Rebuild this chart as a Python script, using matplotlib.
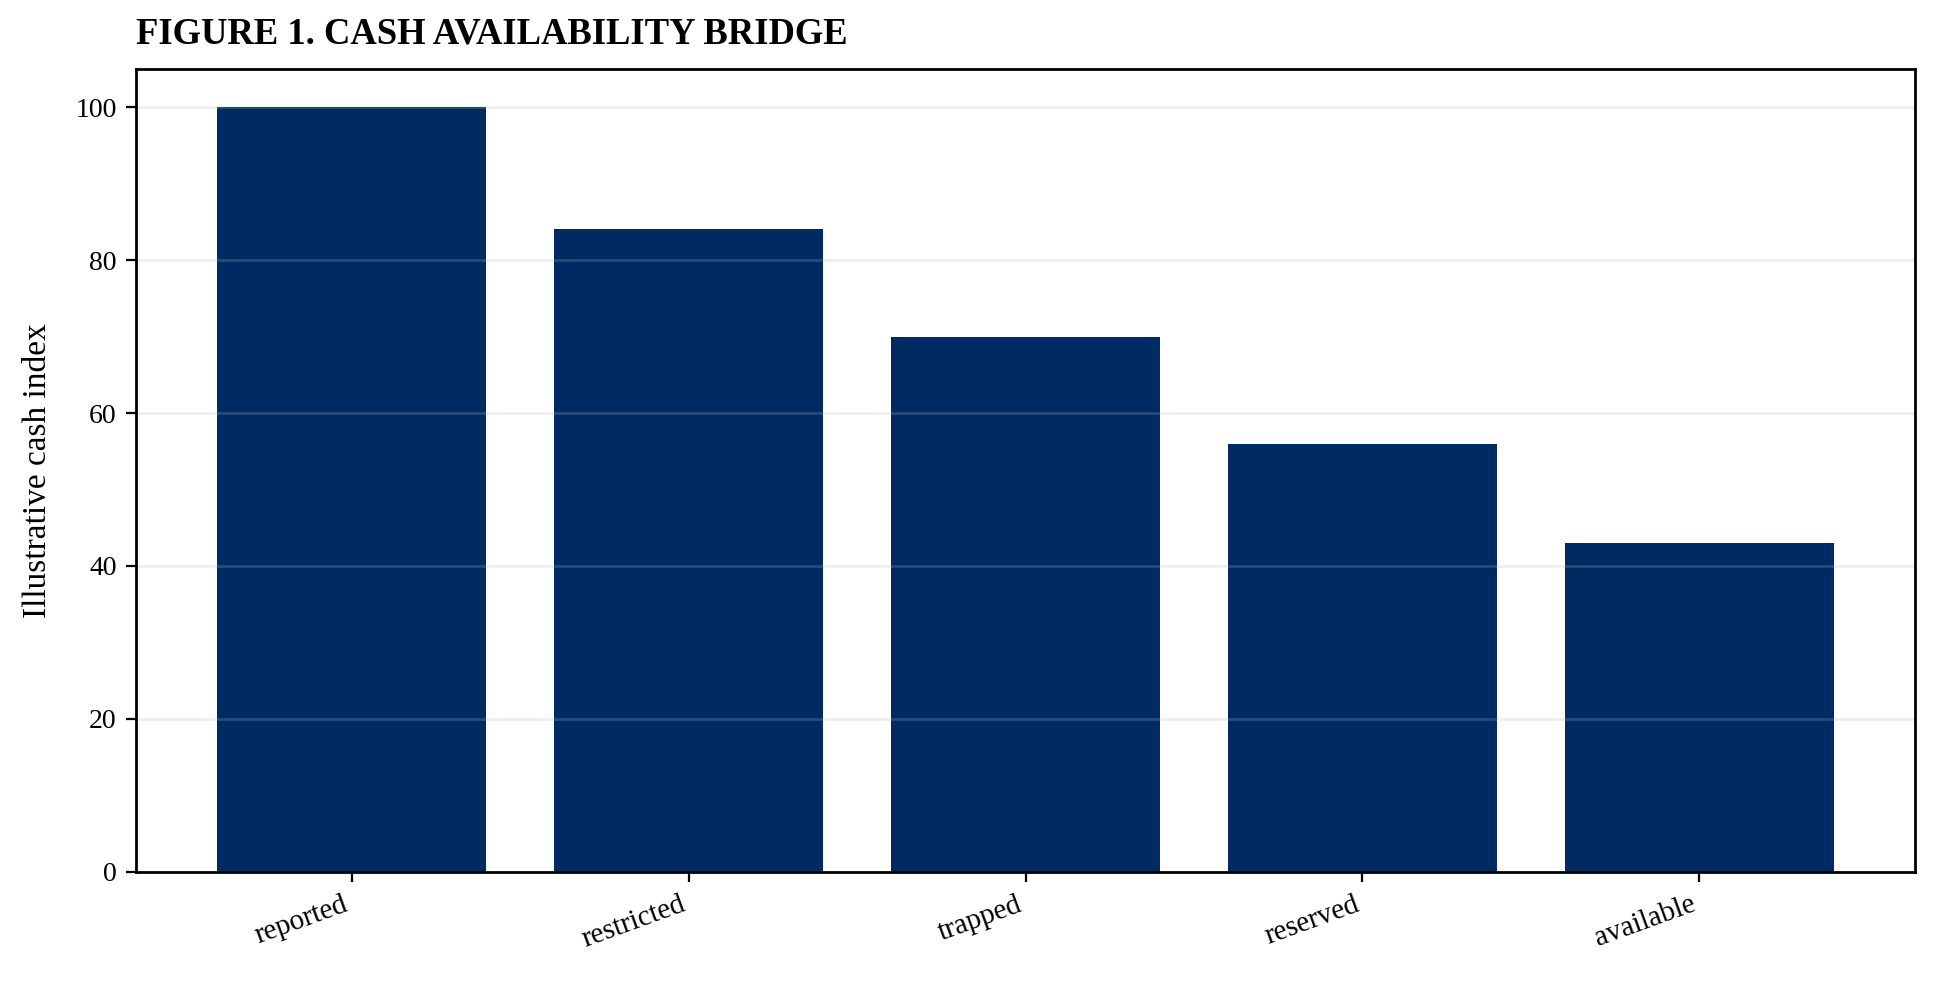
import matplotlib
matplotlib.use("Agg")
import matplotlib.pyplot as plt

# Data
categories = ["reported", "restricted", "trapped", "reserved", "available"]
cash_index = [100, 84, 70, 56, 43]

bar_color = "#002A62"

plt.rcParams['font.family'] = ['Liberation Serif', 'DejaVu Serif']

fig = plt.figure(figsize=(9.695, 4.915), dpi=200)
ax = fig.add_axes([0.0702, 0.113, 0.9174, 0.817])

ax.bar(categories, cash_index, width=0.8, color=bar_color)

ax.set_ylabel("Illustrative cash index", fontsize=12, labelpad=8)
ax.set_title("FIGURE 1. CASH AVAILABILITY BRIDGE", loc="left",
             fontweight="bold", fontsize=13.2, pad=9)

# grid sits above the bars but is faint
ax.yaxis.grid(True, color="#b8b8b8", alpha=0.23, linewidth=1)
ax.tick_params(axis="y", labelsize=10)
ax.tick_params(axis="x", labelsize=10.5)
plt.setp(ax.get_xticklabels(), rotation=20, ha="right")

for s in ax.spines.values():
    s.set_linewidth(1)

fig.savefig("out.png", dpi=200)
